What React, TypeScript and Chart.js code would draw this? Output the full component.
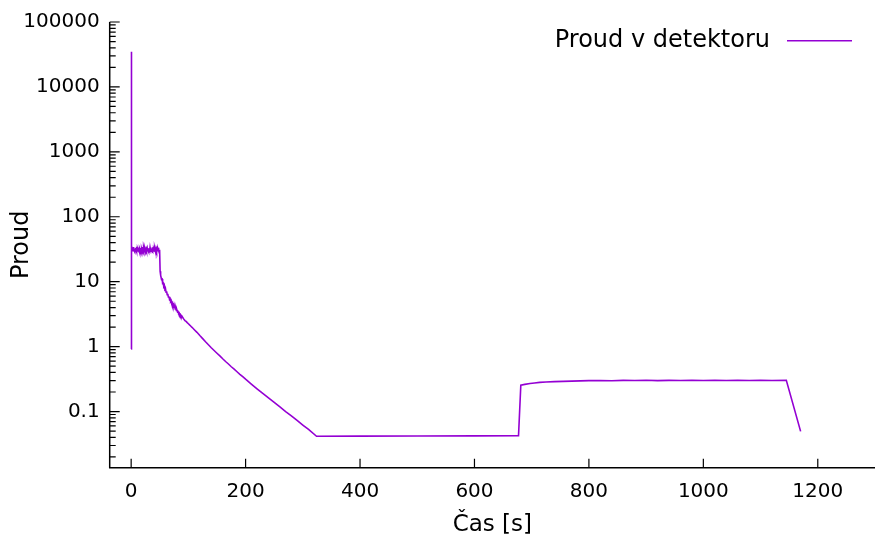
import React, { useEffect, useRef } from "react";
import { Chart, registerables } from "chart.js";
Chart.register(...registerables);

const seriesLabel = "Proud v detektoru";
const xTitle = "Čas [s]";
const yTitle = "Proud";
const lineColor = "#9400D3";

const xTickValues = [0, 200, 400, 600, 800, 1000, 1200];
const yTickValues = [0.1, 1, 10, 100, 1000, 10000, 100000];
const yTickLabels = ["0.1", "1", "10", "100", "1000", "10000", "100000"];

// spike at start
const spikeTime = [0, 0.2];
const spikeValue = [0.92, 34800];

// noisy plateau 0.5..50 s
const plateauTime = [
  0.5, 1, 1.5, 2, 2.5, 3, 3.5, 4, 4.5, 5, 5.5, 6, 6.5, 7, 7.5, 8, 8.5, 9, 9.5, 10, 10.5, 11, 11.5,
  12, 12.5, 13, 13.5, 14, 14.5, 15, 15.5, 16, 16.5, 17, 17.5, 18, 18.5, 19, 19.5, 20, 20.5, 21,
  21.5, 22, 22.5, 23, 23.5, 24, 24.5, 25, 25.5, 26, 26.5, 27, 27.5, 28, 28.5, 29, 29.5, 30, 30.5,
  31, 31.5, 32, 32.5, 33, 33.5, 34, 34.5, 35, 35.5, 36, 36.5, 37, 37.5, 38, 38.5, 39, 39.5, 40,
  40.5, 41, 41.5, 42, 42.5, 43, 43.5, 44, 44.5, 45, 45.5, 46, 46.5, 47, 47.5, 48, 48.5, 49, 49.5,
  50,
];
const plateauValue = [
  31.2, 30.1, 32.5, 29.4, 33.8, 30.6, 29.9, 31.7, 34.2, 30.3, 29.1, 32.0, 31.0, 29.2, 33.1, 30.8,
  31.9, 29.6, 34.6, 30.2, 31.4, 29.0, 32.3, 30.9, 29.8, 33.5, 31.1, 30.0, 28.4, 32.6, 31.3, 29.2,
  32.9, 30.5, 31.8, 29.9, 32.1, 30.4, 28.9, 34.1, 31.5, 30.7, 29.3, 32.4, 30.1, 31.6, 29.4, 33.2,
  30.6, 31.0, 30.2, 32.2, 29.7, 31.4, 30.8, 33.0, 29.5, 31.2, 30.1, 32.7, 28.8, 31.5, 30.4, 31.9,
  29.6, 33.6, 30.9, 30.0, 31.8, 29.3, 32.5, 30.6, 31.1, 29.8, 34.0, 30.3, 31.6, 29.0, 32.0, 30.7,
  31.3, 29.9, 33.3, 30.5, 31.7, 28.6, 32.2, 30.2, 31.4, 29.7, 32.8, 30.8, 29.4, 31.9, 30.0, 33.4,
  30.5, 29.2, 31.0, 30.4,
];

// decay after the source is removed
const decayTime = [
  50.6, 51, 52, 53, 54, 55, 56, 57, 58, 59, 60, 61, 62, 63, 64, 65, 66, 67, 68, 69, 70, 71, 72, 73,
  74, 75, 76, 77, 78, 79, 80, 81, 82, 83, 84, 85, 86, 87, 88, 89, 90, 92, 94, 96, 98, 100, 102, 104,
  106, 108, 110, 115, 120, 125, 130, 135, 140, 145, 150, 155, 160, 165, 170, 175, 180, 185, 190,
  195, 200, 210, 220, 230, 240, 250, 260, 270, 280, 290, 300, 310, 324,
];
const decayValue = [
  14.5, 12.9, 12.6, 10.9, 11.0, 9.5, 9.6, 8.4, 8.7, 7.6, 7.8, 6.9, 7.1, 6.3, 6.5, 5.8, 5.95, 5.35,
  5.5, 4.95, 5.1, 4.62, 4.72, 4.32, 4.42, 4.06, 4.13, 3.82, 3.89, 3.6, 3.66, 3.42, 3.47, 3.25, 3.29,
  3.09, 3.12, 2.94, 2.97, 2.81, 2.83, 2.65, 2.52, 2.45, 2.34, 2.25, 2.16, 2.08, 1.99, 1.92, 1.84,
  1.66, 1.48, 1.33, 1.19, 1.07, 0.96, 0.87, 0.79, 0.72, 0.65, 0.59, 0.54, 0.49, 0.45, 0.41, 0.375,
  0.345, 0.315, 0.265, 0.224, 0.19, 0.162, 0.138, 0.118, 0.1, 0.086, 0.073, 0.062, 0.053, 0.0416,
];

// background, second exposure and end
const tailTime = [
  400, 500, 600, 677, 681, 688, 697, 705, 714, 725, 740, 755, 770, 785, 800, 820, 840, 860, 880,
  900, 920, 940, 960, 980, 1000, 1020, 1040, 1060, 1080, 1100, 1120, 1145, 1170,
];
const tailValue = [
  0.0418, 0.042, 0.0422, 0.0426, 0.255, 0.262, 0.27, 0.276, 0.281, 0.285, 0.289, 0.292, 0.294,
  0.297, 0.299, 0.301, 0.298, 0.302, 0.3, 0.303, 0.299, 0.302, 0.3, 0.304, 0.301, 0.303, 0.3,
  0.302, 0.301, 0.303, 0.3, 0.302, 0.0495,
];

const timeS = [...spikeTime, ...plateauTime, ...decayTime, ...tailTime];
const current = [...spikeValue, ...plateauValue, ...decayValue, ...tailValue];

const FONT = "'DejaVu Sans', sans-serif";

const gnuplotFrame = {
  id: "gnuplotFrame",
  afterDraw(chart: any) {
    const { ctx, chartArea: ca, scales } = chart;
    const xs = scales.x;
    const ys = scales.y;
    ctx.save();
    ctx.strokeStyle = "#000";
    ctx.lineWidth = 1.5;
    ctx.beginPath();
    ctx.moveTo(ca.left, ca.top);
    ctx.lineTo(ca.left, ca.bottom);
    ctx.lineTo(ca.right, ca.bottom);
    ctx.stroke();
    ctx.lineWidth = 1.2;
    ctx.beginPath();
    for (const v of yTickValues) {
      const p = ys.getPixelForValue(v);
      ctx.moveTo(ca.left, p);
      ctx.lineTo(ca.left + 10, p);
    }
    for (let e = -3; e <= 5; e++) {
      for (let k = 2; k <= 9; k++) {
        const v = k * Math.pow(10, e);
        if (v < ys.min || v > ys.max) continue;
        const p = ys.getPixelForValue(v);
        ctx.moveTo(ca.left, p);
        ctx.lineTo(ca.left + 6, p);
      }
    }
    for (const v of xTickValues) {
      const p = xs.getPixelForValue(v);
      ctx.moveTo(p, ca.bottom);
      ctx.lineTo(p, ca.bottom - 9);
    }
    ctx.stroke();
    // legend
    ctx.font = `24px ${FONT}`;
    ctx.fillStyle = "#000";
    ctx.textAlign = "right";
    ctx.textBaseline = "middle";
    ctx.fillText(seriesLabel, 770, 41);
    ctx.strokeStyle = lineColor;
    ctx.lineWidth = 1.6;
    ctx.beginPath();
    ctx.moveTo(787, 40.7);
    ctx.lineTo(852, 40.7);
    ctx.stroke();
    ctx.restore();
  },
};

export default function App() {
  const ref = useRef<HTMLCanvasElement>(null);
  useEffect(() => {
    if (!ref.current) return;
    const chart = new Chart(ref.current, {
      type: "line",
      data: {
        datasets: [
          {
            label: seriesLabel,
            data: timeS.map((t, i) => ({ x: t, y: current[i] })),
            borderColor: lineColor,
            backgroundColor: lineColor,
            borderWidth: 1.6,
            pointRadius: 0,
            tension: 0,
          },
        ],
      },
      options: {
        animation: false,
        responsive: true,
        maintainAspectRatio: false,
        layout: { padding: { top: 17.7, right: 0, left: 0, bottom: 0 } },
        plugins: { legend: { display: false }, tooltip: { enabled: false } },
        scales: {
          x: {
            type: "linear",
            min: -37.5,
            max: 1300,
            afterBuildTicks: (s: any) => {
              s.ticks = xTickValues.map((v) => ({ value: v }));
            },
            afterFit: (s: any) => {
              s.height = 71.3;
            },
            grid: { display: false, drawTicks: false },
            border: { display: false },
            ticks: {
              padding: 12,
              color: "#000",
              font: { family: FONT, size: 20 },
              maxRotation: 0,
              callback: (v: any) => String(v),
            },
            title: {
              display: true,
              text: xTitle,
              color: "#000",
              font: { family: FONT, size: 23 },
              padding: { top: 0, bottom: 0 },
            },
          },
          y: {
            type: "logarithmic",
            min: 0.01365,
            max: 100000,
            afterBuildTicks: (s: any) => {
              s.ticks = yTickValues.map((v) => ({ value: v }));
            },
            afterFit: (s: any) => {
              s.width = 109.7;
            },
            grid: { display: false, drawTicks: false },
            border: { display: false },
            ticks: {
              padding: 10,
              color: "#000",
              font: { family: FONT, size: 20 },
              callback: (v: any) => {
                const i = yTickValues.indexOf(Number(v));
                return i >= 0 ? yTickLabels[i] : "";
              },
            },
            title: {
              display: true,
              text: yTitle,
              color: "#000",
              font: { family: FONT, size: 24 },
              padding: { top: 7, bottom: 0 },
            },
          },
        },
      },
      plugins: [gnuplotFrame],
    });
    return () => chart.destroy();
  }, []);
  return (
    <div style={{ position: "fixed", left: 0, top: 0, width: 875, height: 539, background: "#fff" }}>
      <canvas ref={ref} />
    </div>
  );
}
